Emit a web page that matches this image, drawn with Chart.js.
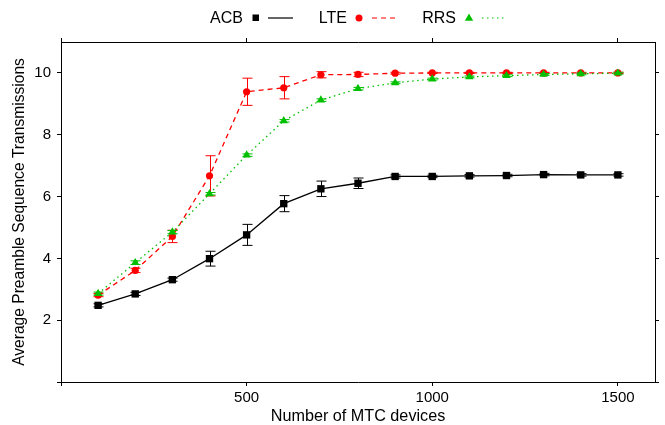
<!DOCTYPE html>
<html>
<head>
<meta charset="utf-8">
<script src="https://cdn.jsdelivr.net/npm/chart.js@4.4.1/dist/chart.umd.min.js"></script>
<style>
    html, body { margin: 0; padding: 0; background: #fff; }
    #wrap { position: relative; width: 665px; height: 425px; font-family: "Liberation Sans", Arial, sans-serif; }
    #chart { position: absolute; left: 0; top: 0; }
    .legText { position: absolute; top: 8px; height: 20px; line-height: 20px; font-size: 16px; color: #000; text-align: right; width: 60px; }
    .legMark { position: absolute; top: 8px; }
</style>
</head>
<body>
<div id="wrap">
    <canvas id="chart" width="665" height="425"></canvas>
    <div id="legend"></div>
</div>
<script>
const devices = [100, 200, 300, 400, 500, 600, 700, 800, 900, 1000, 1100, 1200, 1300, 1400, 1500];

const acb    = [2.48, 2.85, 3.31, 3.99, 4.76, 5.77, 6.25, 6.43, 6.65, 6.65, 6.67, 6.68, 6.71, 6.70, 6.70];
const acbErr = [0.05, 0.05, 0.05, 0.24, 0.34, 0.26, 0.25, 0.17, 0.05, 0.04, 0.04, 0.04, 0.04, 0.04, 0.04];

const lte    = [2.81, 3.61, 4.71, 6.67, 9.39, 9.52, 9.94, 9.95, 9.99, 10.0, 10.0, 10.0, 10.0, 10.0, 10.0];
const lteErr = [0.05, 0.07, 0.20, 0.65, 0.44, 0.36, 0.10, 0.07, 0.03, 0.02, 0.02, 0.02, 0.02, 0.02, 0.02];

const rrs    = [2.86, 3.86, 4.85, 6.09, 7.34, 8.45, 9.12, 9.49, 9.68, 9.80, 9.87, 9.91, 9.95, 9.97, 9.99];
const rrsErr = [0.05, 0.06, 0.05, 0.04, 0.04, 0.04, 0.04, 0.04, 0.03, 0.03, 0.03, 0.03, 0.03, 0.03, 0.03];

const seriesNames = ['ACB', 'LTE', 'RRS'];
const xTicks = [0, 500, 1000, 1500];
const yTicks = [0, 2, 4, 6, 8, 10];

const black = '#000000';
const red = '#ff0000';
const green = '#00c000';

function points(values) {
    return devices.map((d, i) => ({ x: d, y: values[i] }));
}

// gnuplot-style error bars, drawn with the chart's own scales
const errorBars = {
    id: 'errorBars',
    afterDatasetDraw(chart, args) {
        const ds = chart.data.datasets[args.index];
        if (!ds.errors) return;
        const xs = chart.scales.x;
        const ys = chart.scales.y;
        const ctx = chart.ctx;
        ctx.save();
        ctx.strokeStyle = ds.borderColor;
        ctx.lineWidth = 1;
        ds.data.forEach((p, i) => {
            const e = ds.errors[i];
            const px = Math.round(xs.getPixelForValue(p.x)) + 0.5;
            const top = ys.getPixelForValue(p.y + e);
            const bot = ys.getPixelForValue(p.y - e);
            ctx.beginPath();
            ctx.moveTo(px, top);
            ctx.lineTo(px, bot);
            ctx.moveTo(px - 5, top);
            ctx.lineTo(px + 5, top);
            ctx.moveTo(px - 5, bot);
            ctx.lineTo(px + 5, bot);
            ctx.stroke();
        });
        ctx.restore();
    }
};

function setTicks(list) {
    return (scale) => {
        scale.ticks = list.map(v => ({ value: v }));
    };
}

function frameGrid() {
    return {
        drawOnChartArea: false,
        drawTicks: true,
        tickLength: 4,
        color: '#000',
        tickColor: '#000'
    };
}
function frameBorder() {
    return { display: true, color: '#000', width: 1 };
}

new Chart(document.getElementById('chart'), {
    type: 'line',
    data: {
        datasets: [{
            label: seriesNames[0],
            data: points(acb),
            errors: acbErr,
            borderColor: black,
            backgroundColor: black,
            borderWidth: 1.3,
            pointStyle: 'rect',
            pointRadius: 5.2,
            pointBorderWidth: 0,
            order: 2
        }, {
            label: seriesNames[1],
            data: points(lte),
            errors: lteErr,
            borderColor: red,
            backgroundColor: red,
            borderWidth: 1.3,
            borderDash: [5, 4],
            pointStyle: 'circle',
            pointRadius: 3.6,
            pointBorderWidth: 0,
            order: 1
        }, {
            label: seriesNames[2],
            data: points(rrs),
            errors: rrsErr,
            borderColor: green,
            backgroundColor: green,
            borderWidth: 1.3,
            borderDash: [1.5, 3.5],
            pointStyle: 'triangle',
            pointRadius: 4.8,
            pointBorderWidth: 0,
            order: 0
        }]
    },
    options: {
        responsive: false,
        animation: false,
        layout: { padding: { top: 42, right: 10, left: 0, bottom: 0 } },
        plugins: {
            legend: { display: false },
            tooltip: { enabled: false }
        },
        elements: { line: { tension: 0 } },
        scales: {
            x: {
                type: 'linear',
                position: 'bottom',
                min: 0,
                max: 1600,
                afterBuildTicks: setTicks(xTicks),
                afterFit: (s) => { s.height = 43; },
                ticks: {
                    autoSkip: false,
                    maxRotation: 0,
                    padding: 3,
                    color: '#000',
                    font: { family: 'Liberation Sans', size: 15 },
                    callback: (v) => v === 0 ? '' : String(v)
                },
                grid: frameGrid(),
                border: frameBorder(),
                title: {
                    display: true,
                    text: 'Number of MTC devices',
                    color: '#000',
                    padding: 0,
                    font: { family: 'Liberation Sans', size: 16.2, lineHeight: 1 }
                }
            },
            y: {
                type: 'linear',
                position: 'left',
                min: 0,
                max: 11,
                afterBuildTicks: setTicks(yTicks),
                afterFit: (s) => { s.width = 61; },
                ticks: {
                    autoSkip: false,
                    padding: 6,
                    color: '#000',
                    font: { family: 'Liberation Sans', size: 15 },
                    callback: (v) => v === 0 ? '' : String(v)
                },
                grid: frameGrid(),
                border: frameBorder(),
                title: {
                    display: true,
                    text: 'Average Preamble Sequence Transmissions',
                    color: '#000',
                    padding: 12,
                    font: { family: 'Liberation Sans', size: 15.6, lineHeight: 1 }
                }
            },
            x2: {
                type: 'linear',
                position: 'top',
                min: 0,
                max: 1600,
                afterBuildTicks: setTicks(xTicks),
                afterFit: (s) => { s.height = 0; },
                ticks: { display: false, autoSkip: false },
                grid: frameGrid(),
                border: frameBorder()
            },
            y2: {
                type: 'linear',
                position: 'right',
                min: 0,
                max: 11,
                afterBuildTicks: setTicks(yTicks),
                afterFit: (s) => { s.width = 0; },
                ticks: { display: false, autoSkip: false },
                grid: frameGrid(),
                border: frameBorder()
            }
        }
    },
    plugins: [errorBars]
});

// legend in gnuplot order: name, marker, line sample
const legendSpots = [
    { textRight: 243, markLeft: 250 },
    { textRight: 347, markLeft: 352 },
    { textRight: 456, markLeft: 462 }
];
const legendMarks = [
    '<svg class="legMark" width="46" height="20"><rect x="2.5" y="6.5" width="6.5" height="6.5" fill="' + black + '"/>' +
        '<line x1="18" y1="10" x2="43" y2="10" stroke="' + black + '" stroke-width="1.2"/></svg>',
    '<svg class="legMark" width="46" height="20"><circle cx="7" cy="10" r="3.5" fill="' + red + '"/>' +
        '<line x1="20" y1="10" x2="44" y2="10" stroke="' + red + '" stroke-width="1.2" stroke-dasharray="5 4"/></svg>',
    '<svg class="legMark" width="46" height="20"><polygon points="7,5.5 11.2,12.8 2.8,12.8" fill="' + green + '"/>' +
        '<line x1="20" y1="10" x2="44" y2="10" stroke="' + green + '" stroke-width="1.2" stroke-dasharray="1.5 3.5"/></svg>'
];
const legend = document.getElementById('legend');
seriesNames.forEach((name, i) => {
    const t = document.createElement('div');
    t.className = 'legText';
    t.style.left = (legendSpots[i].textRight - 60) + 'px';
    t.textContent = name;
    legend.appendChild(t);
    const m = document.createElement('div');
    m.style.position = 'absolute';
    m.style.left = legendSpots[i].markLeft + 'px';
    m.style.top = '0px';
    m.innerHTML = legendMarks[i];
    legend.appendChild(m);
});
</script>
</body>
</html>
